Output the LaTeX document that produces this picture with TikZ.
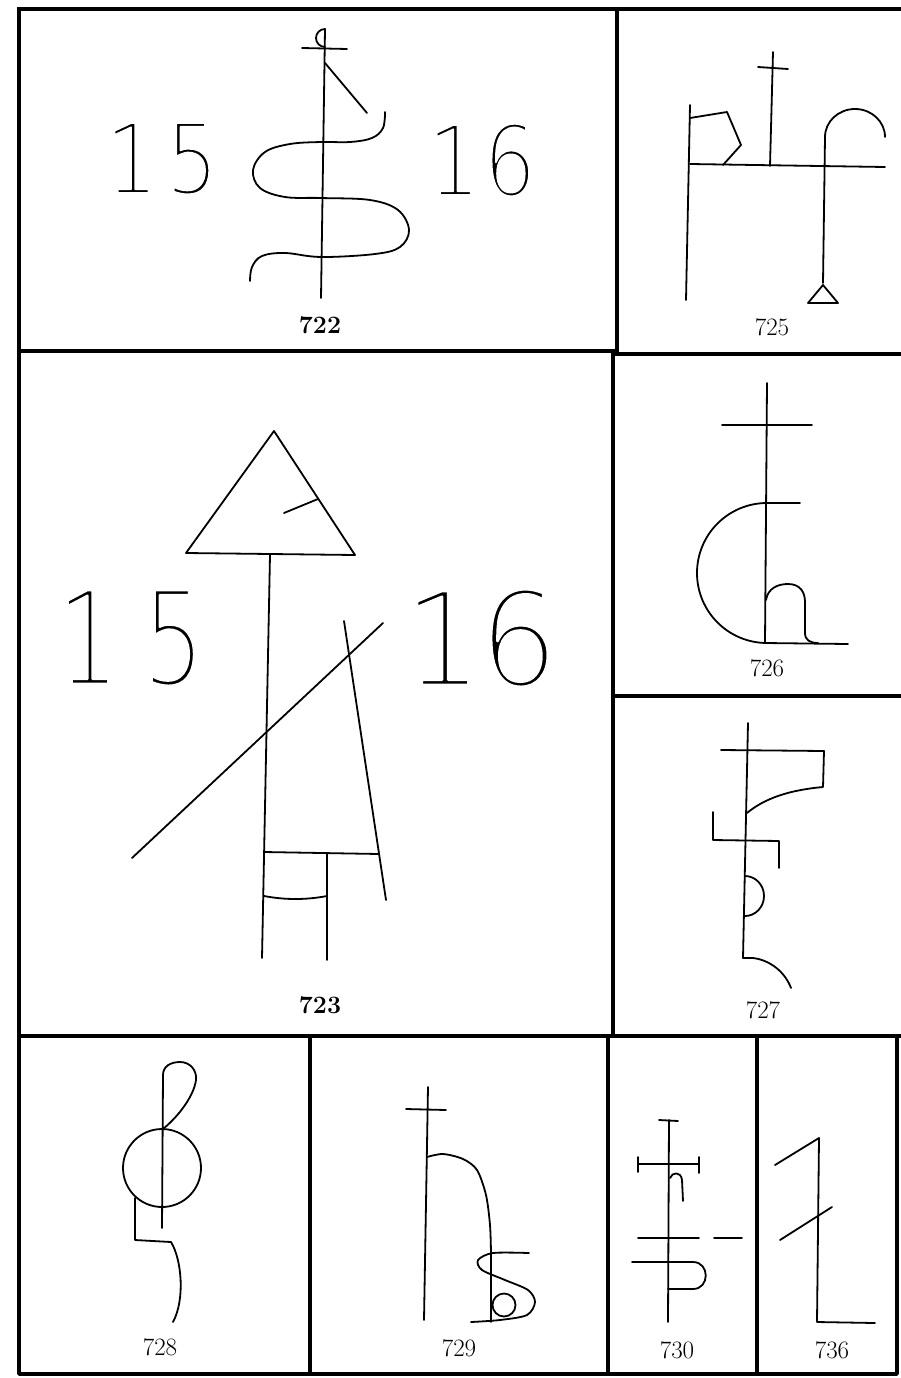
\documentclass[tikz,border=0pt]{standalone}
\usepackage{fontspec}
\newfontfamily\sigilfont{DejaVuSans-ExtraLight.ttf}
\makeatletter
% thin the big hand-drawn digits: fill and stroke the outline in white
\newcommand\thindigits[2][2.6]{\pgfsys@beginscope\pgfsys@invoke{ 2 Tr 1 G #1 w }#2\pgfsys@endscope}
\makeatother
\begin{document}
\begin{tikzpicture}[x=1pt,y=-1pt,line join=round,line cap=round,
  frame/.style={line width=3.6pt,line cap=rect},
  glyph/.style={line width=1.8pt},
  lbl/.style={inner sep=0pt,anchor=base,font=\fontsize{25}{25}\selectfont},
  bigdigits/.style={inner sep=0pt,anchor=base,font=\sigilfont\fontsize{#1}{#1}\selectfont}]
\useasboundingbox (0,0) rectangle (901,1378);
% frames
\draw[frame] (19,9) -- (901,9);
\draw[frame] (19,9) -- (19,1374) -- (897,1374) -- (897,1036);
\draw[frame] (19,351) -- (617,351);
\draw[frame] (617,354) -- (901,354);
\draw[frame] (617,9) -- (617,354);
\draw[frame] (613,354) -- (613,1036);
\draw[frame] (613,696) -- (901,696);
\draw[frame] (19,1036) -- (901,1036);
\draw[frame] (310,1036) -- (310,1374);
\draw[frame] (608,1036) -- (608,1374);
\draw[frame] (757,1036) -- (757,1374);
% 722
\draw[glyph] (325,29) -- (321,298);
\draw[glyph] (302,48) -- (347,49);
\draw[glyph] (325,29) arc[start angle=-90,end angle=-270,radius=9];
\draw[glyph] (325,63) -- (367,113);
\draw[glyph] plot[smooth,tension=0.6] coordinates {(385,112) (383,128) (372,138) (350,142)
  (321,142) (290,144) (265,152) (253,170) (260,188) (285,197) (321,198) (370,200) (398,210)
  (409,230) (400,247) (375,254) (321,257) (285,253) (262,256) (252,267) (250,281)};
\node[bigdigits=96] (n15a) at (162,193) {\thindigits[1.8]{\scalebox{0.86}[1]{1\kern9pt5}}};
\node[bigdigits=96] (n16a) at (482,195) {\thindigits[1.8]{\scalebox{0.86}[1]{1\kern4pt6}}};
\node[lbl,font=\fontsize{25}{25}\selectfont\bfseries] (l722) at (320,333) {722};
% 723
\draw[glyph] (274,431) -- (186,553) -- (355,555) -- cycle;
\draw[glyph] (284,513) -- (318,499);
\draw[glyph] (270,555) -- (262,958);
\draw[glyph] (383,623) -- (132,858);
\draw[glyph] (344,621) -- (386,900);
\draw[glyph] (264,852) -- (379,854);
\draw[glyph] (327,853) -- (327,960);
\draw[glyph] (264,896) .. controls (285,900) and (306,900) .. (327,896);
\node[bigdigits=129] (n15b) at (131,684) {\thindigits{\scalebox{0.76}[1]{1\kern30pt5}}};
\node[bigdigits=129] (n16b) at (481,685) {\thindigits{\scalebox{0.97}[1]{1\kern-4pt6}}};
\node[lbl,font=\fontsize{25}{25}\selectfont\bfseries] (l723) at (320,1013) {723};
% 725
\draw[glyph] (690,105) -- (686,300);
\draw[glyph] (690,118) -- (727,112) -- (741,145) -- (723,165);
\draw[glyph] (690,164) -- (885,167);
\draw[glyph] (773,52) -- (770,166);
\draw[glyph] (758,67) -- (788,69);
\draw[glyph] (823,283) -- (825,137) arc[start angle=180,end angle=360,x radius=30,y radius=28];
\draw[glyph] (823,285) -- (808,303) -- (838,303) -- cycle;
\node[lbl] (l725) at (772,335) {725};
% 726
\draw[glyph] (767,383) -- (765,643);
\draw[glyph] (722,425) -- (812,425);
\draw[glyph] (800,503) -- (767,503) arc[start angle=270,end angle=90,radius=70];
\draw[glyph] (765,643) -- (848,644);
\draw[glyph] (766,600) .. controls (768,588) and (778,584) .. (788,584)
  .. controls (800,584) and (805,592) .. (805,602) -- (805,633)
  .. controls (805,640) and (810,643) .. (818,643);
\node[lbl] (l726) at (767,676) {726};
% 727
\draw[glyph] (748,723) -- (743,958) -- (753,958) .. controls (770,960) and (785,972) .. (791,988);
\draw[glyph] (721,750) -- (824,751) -- (823,787) .. controls (790,790) and (765,798) .. (747,813);
\draw[glyph] (713,812) -- (713,840) -- (779,841) -- (779,868);
\draw[glyph] (745,876) arc[start angle=-90,end angle=90,x radius=19,y radius=20];
\node[lbl] (l727) at (763,1018) {727};
% 728
\draw[glyph] (162,1168) circle[radius=39];
\draw[glyph] (162,1228) -- (163,1075) .. controls (163,1066) and (171,1062) .. (180,1062)
  .. controls (190,1062) and (197,1070) .. (196,1080) .. controls (194,1095) and (180,1115) .. (163,1129);
\draw[glyph] (135,1198) -- (135,1240) -- (171,1242) .. controls (182,1260) and (185,1300) .. (173,1322);
\node[lbl] (l728) at (160,1355) {728};
% 729
\draw[glyph] (428,1087) -- (424,1320);
\draw[glyph] (406,1109) -- (446,1110);
\draw[glyph] plot[smooth] coordinates {(427,1157) (443,1154) (463,1159) (477,1170) (486,1195) (490,1225) (491,1253)}
  -- (491,1322);
\draw[glyph] plot[smooth] coordinates {(529,1253) (493,1253) (478,1260) (482,1270) (505,1280)
  (528,1290) (535,1302) (527,1315) (500,1320) (471,1322)};
\draw[glyph] (504,1305) circle[radius=11.5];
\node[lbl] (l729) at (459,1356) {729};
% 730
\draw[glyph] (669,1120) -- (668,1322);
\draw[glyph] (659,1120) -- (678,1121);
\draw[glyph] (638,1164) -- (699,1164);
\draw[glyph] (638,1157) -- (638,1172);
\draw[glyph] (699,1157) -- (699,1173);
\draw[glyph] (670,1178) .. controls (672,1172) and (681,1171) .. (682,1180) -- (683,1201);
\draw[glyph] (638,1238) -- (699,1238);
\draw[glyph] (714,1238) -- (742,1238);
\draw[glyph] (632,1262) -- (693,1262) .. controls (710,1262) and (710,1289) .. (693,1289) -- (668,1289);
\node[lbl] (l730) at (677,1358) {730};
% 736
\draw[glyph] (775,1165) -- (819,1138) -- (817,1322) -- (875,1323);
\draw[glyph] (780,1240) -- (832,1207);
\node[lbl] (l736) at (832,1358) {736};
\end{tikzpicture}
\end{document}
